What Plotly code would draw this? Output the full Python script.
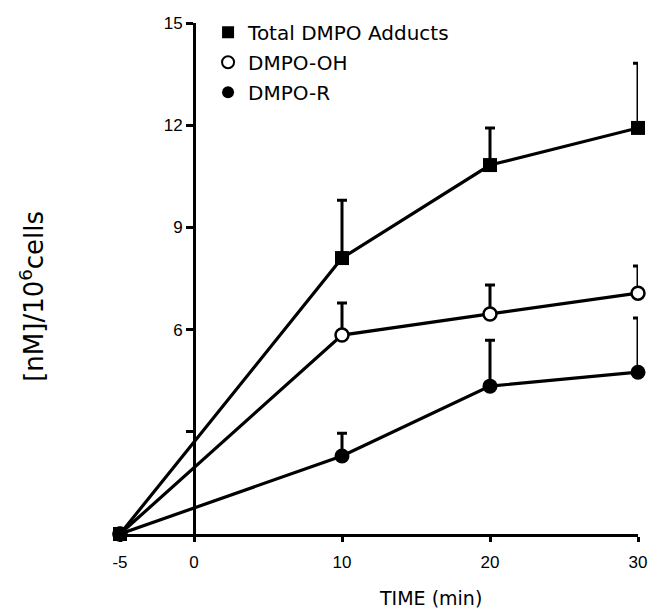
import plotly.graph_objects as go

# Data
time_min = [-5, 10, 20, 30]
total_adducts = [0, 8.1, 10.83, 11.92]
total_err = [None, 1.7, 1.09, 1.9]
dmpo_oh = [0, 5.84, 6.46, 7.07]
dmpo_oh_err = [None, 0.94, 0.85, 0.8]
dmpo_r = [0, 2.29, 4.34, 4.75]
dmpo_r_err = [None, 0.67, 1.35, 1.59]

series_names = ["Total DMPO Adducts", "DMPO-OH", "DMPO-R"]

x_ticks = [-5, 0, 10, 20, 30]
x_ticktext = ["-5", "0", "10", "20", "30"]
y_ticks = [6, 9, 12, 15]
y_ticktext = ["6", "9", "12", "15"]
y_minor_ticks = [3]

FONT = "Liberation Sans, Arial, sans-serif"
FONT2 = "DejaVu Sans, sans-serif"

fig = go.Figure()

styles = [
    dict(symbol="square", size=14, color="black", line=dict(color="black", width=0)),
    dict(symbol="circle", size=13, color="white", line=dict(color="black", width=2.5)),
    dict(symbol="circle", size=15, color="black", line=dict(color="black", width=0)),
]
ys = [total_adducts, dmpo_oh, dmpo_r]
errs = [total_err, dmpo_oh_err, dmpo_r_err]

for name, y, e, st in zip(series_names, ys, errs, styles):
    fig.add_trace(go.Scatter(
        x=time_min, y=y, mode="lines+markers", name=name, showlegend=False,
        line=dict(color="black", width=3.2),
        marker=st,
        cliponaxis=False,
        error_y=dict(type="data", symmetric=False, array=e,
                     arrayminus=[0] * len(e), color="black",
                     thickness=3, width=5),
    ))

# legend entries (marker only)
for i, (name, st) in enumerate(zip(series_names, styles)):
    fig.add_trace(go.Scatter(x=[None], y=[None], mode="markers", name=name,
                             marker=st, showlegend=True, legendgroup=f"g{i}"))

fig.update_layout(
    width=649, height=608,
    margin=dict(l=120, r=11, t=23, b=74),
    plot_bgcolor="white", paper_bgcolor="white",
    font=dict(family=FONT, color="black", size=16),
    showlegend=True,
    legend=dict(x=0.17, y=1.02, xanchor="left", yanchor="top",
                bgcolor="rgba(0,0,0,0)", font=dict(size=20, family=FONT2),
                tracegroupgap=1, itemsizing="constant"),
    xaxis=dict(range=[-5, 30], showline=True, linecolor="black", linewidth=3,
               ticks="outside", ticklen=5, tickwidth=2.5, tickcolor="black",
               tickvals=x_ticks, ticktext=x_ticktext, showgrid=False,
               zeroline=False, automargin=False, ticklabelstandoff=6,
               tickfont=dict(size=17, family=FONT)),
    yaxis=dict(range=[0, 15], anchor="free", position=5 / 35, showline=True,
               linecolor="black", linewidth=3, ticks="outside", ticklen=7,
               tickwidth=2.5, tickcolor="black", tickvals=y_ticks,
               ticktext=y_ticktext, showgrid=False, zeroline=False,
               automargin=False,
               minor=dict(tickvals=y_minor_ticks, ticks="outside", ticklen=7,
                          tickwidth=2.5, tickcolor="black", showgrid=False),
               tickfont=dict(size=17, family=FONT)),
    annotations=[
        dict(text="[nM]/10<sup>6</sup>cells", textangle=-90, xref="paper", yref="paper",
             x=-0.17, y=0.466, xanchor="center", yanchor="middle",
             showarrow=False, font=dict(size=26, family=FONT2)),
        dict(text="TIME (min)", xref="paper", yref="paper", x=0.6, y=-0.125,
             xanchor="center", yanchor="middle",
             showarrow=False, font=dict(size=19, family=FONT2)),
    ],
)

fig.write_html("out.html")
